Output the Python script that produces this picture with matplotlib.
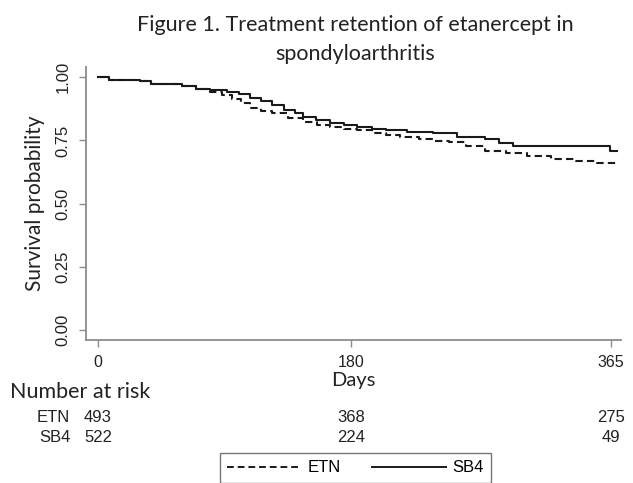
import matplotlib

matplotlib.use("Agg", force=True)
import matplotlib.pyplot as plt
from matplotlib.lines import Line2D
from matplotlib.transforms import blended_transform_factory

# Kaplan-Meier step points (days, survival)
etn_days = [0, 8, 30, 38, 60, 70, 80, 88, 95, 102, 108, 116, 124, 135, 146, 156,
            165, 175, 184, 195, 205, 215, 228, 240, 250, 262, 275, 290, 305, 322,
            340, 355, 369]
etn_surv = [1.0, 0.99, 0.985, 0.972, 0.965, 0.955, 0.94, 0.93, 0.915, 0.9, 0.88,
            0.868, 0.858, 0.84, 0.822, 0.812, 0.802, 0.795, 0.79, 0.78, 0.77,
            0.763, 0.755, 0.748, 0.743, 0.728, 0.71, 0.70, 0.69, 0.676, 0.668,
            0.66, 0.655]
sb4_days = [0, 8, 30, 38, 60, 70, 80, 92, 100, 108, 116, 124, 132, 140, 146, 155,
            165, 175, 184, 195, 205, 220, 238, 255, 275, 285, 295, 364, 369]
sb4_surv = [1.0, 0.99, 0.985, 0.972, 0.965, 0.955, 0.948, 0.942, 0.932, 0.918,
            0.905, 0.889, 0.872, 0.858, 0.842, 0.83, 0.818, 0.81, 0.802, 0.795,
            0.79, 0.785, 0.78, 0.763, 0.755, 0.74, 0.729, 0.71, 0.71]

x_ticks = [0, 180, 365]
y_ticks = [0.0, 0.25, 0.50, 0.75, 1.00]
groups = ["ETN", "SB4"]
at_risk = {"ETN": [493, 368, 275], "SB4": [522, 224, 49]}

line_col = "#1a1a1a"
axis_col = "#8c8c8c"
text_col = "#222222"
label_font = "Lato"
num_font = "Liberation Sans"
dash = (0, (3.5, 2.0))

fig = plt.figure(figsize=(6.33, 4.83), dpi=100)
ax = fig.add_axes([0.136, 0.296, 0.845, 0.565])

ax.step(etn_days, etn_surv, where="post", color=line_col, lw=1.5, linestyle=dash)
ax.step(sb4_days, sb4_surv, where="post", color=line_col, lw=1.5)

ax.set_xlim(-8.5, 372)
ax.set_ylim(-0.04, 1.04)
ax.set_xticks(x_ticks)
ax.set_yticks(y_ticks)
ax.set_xticklabels([str(v) for v in x_ticks], fontfamily=num_font, fontsize=11.5)
ax.set_yticklabels([f"{v:.2f}" for v in y_ticks], fontfamily=num_font,
                   fontsize=12, rotation=90, va="center")
for side in ("top", "right"):
    ax.spines[side].set_visible(False)
for side in ("left", "bottom"):
    ax.spines[side].set_color(axis_col)
    ax.spines[side].set_linewidth(1.3)
ax.tick_params(colors=axis_col, length=5, width=1.0, labelcolor=text_col)
ax.tick_params(axis="y", pad=6)
ax.tick_params(axis="x", pad=6)

ax.set_xlabel("Days", fontfamily=label_font, fontsize=14.5, color=text_col,
              labelpad=1)
ax.set_ylabel("Survival probability", fontfamily=label_font, fontsize=15,
              color=text_col, labelpad=8)

fig.text(0.561, 1 - 39.5 / 483,
         "Figure 1. Treatment retention of etanercept in\nspondyloarthritis",
         ha="center", va="center", fontfamily=label_font, fontsize=15.5,
         color=text_col, linespacing=1.55)

# number at risk table
fig.text(0.016, 1 - 392 / 483, "Number at risk", ha="left", va="center",
         fontfamily=label_font, fontsize=15.5, color=text_col)
row_y = [1 - 418 / 483, 1 - 437 / 483]
trans = blended_transform_factory(ax.transData, fig.transFigure)
for g, y in zip(groups, row_y):
    fig.text(0.111, y, g, ha="right", va="center", fontfamily=num_font,
             fontsize=12, color=text_col)
    for xv, n in zip(x_ticks, at_risk[g]):
        fig.text(xv, y, str(n), transform=trans, ha="center", va="center",
                 fontfamily=num_font, fontsize=12, color=text_col)

handles = [Line2D([], [], color=line_col, lw=1.4, linestyle=dash),
           Line2D([], [], color=line_col, lw=1.4)]
leg = fig.legend(handles, groups, loc="upper center",
                 bbox_to_anchor=(0.5616, 1 - 453 / 483), ncol=2,
                 frameon=True, fancybox=False, handlelength=4.4,
                 columnspacing=1.9, handletextpad=0.4, borderpad=0.45,
                 borderaxespad=0, prop={"family": num_font, "size": 12})
leg.get_frame().set_edgecolor("#555555")
leg.get_frame().set_linewidth(1.0)

fig.savefig("out.png", dpi=100)
